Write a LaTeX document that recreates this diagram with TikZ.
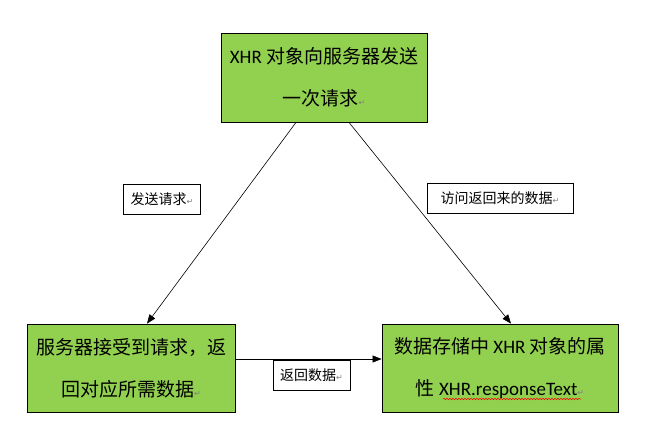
\documentclass[tikz,border=0pt]{standalone}
\usepackage{fontspec}
\usetikzlibrary{arrows.meta,decorations.pathmorphing}
\newfontfamily\cjk{Noto Sans CJK SC}
\newfontfamily\latfont{Carlito}
\newfontfamily\symfont{DejaVu Sans}
\definecolor{boxgreen}{HTML}{92D050}
\newcommand\retmark{{\color{gray}\symfont\fontsize{8}{8}\selectfont ↵}}
\newcommand\xhr{{\latfont XHR}}
\tikzset{
  stepbox/.style={draw=black, fill=boxgreen, line width=0.8pt, inner sep=0pt,
    align=center, font=\cjk\fontsize{19}{41}\selectfont},
  tagbox/.style={draw=black, fill=white, line width=0.6pt, inner sep=0pt,
    minimum height=30pt, font=\cjk\fontsize{14}{15}\selectfont},
  flow/.style={-{Triangle[length=9pt,width=7pt]}, line width=0.6pt}
}
\begin{document}
\begin{tikzpicture}[x=1pt, y=-1pt]
    \useasboundingbox (0,0) rectangle (653,441);
    % the three steps
    \node[stepbox, minimum width=206pt, minimum height=89pt] (req) at (324, 77.5)
        {\xhr\ 对象向服务器发送\\[1pt]一次请求\retmark};
    \node[stepbox, minimum width=208pt, minimum height=88pt] (srv) at (131, 368)
        {服务器接受到请求，返\\[1pt]回对应所需数据\retmark};
    \node[stepbox, minimum width=236pt, minimum height=88pt] (store) at (500, 368)
        {数据存储中 \xhr\ 对象的属\\[1pt]性 {\latfont XHR.responseText}\retmark};
    % arrows
    \draw[flow] ([xshift=-28pt]req.south) -- ([xshift=16pt]srv.north);
    \draw[flow] ([xshift=25pt]req.south) -- ([xshift=11pt]store.north);
    \draw[flow] ([yshift=9pt]srv.east) -- ([yshift=9pt]store.west);
    % labels
    \node[tagbox, minimum width=77pt] (sendtag) at (162, 199.5) {发送请求\retmark};
    \node[tagbox, minimum width=146pt] (readtag) at (500, 198) {访问返回来的数据\retmark};
    \node[tagbox, minimum width=77pt] (backtag) at (311.5, 375) {返回数据\retmark};
    % spelling mark
    \draw[red, line width=0.5pt, decorate, decoration={snake, amplitude=0.8pt, segment length=3pt}]
        ([xshift=-57pt, yshift=-31pt]store.center) -- ++(138pt,0);
\end{tikzpicture}
\end{document}
